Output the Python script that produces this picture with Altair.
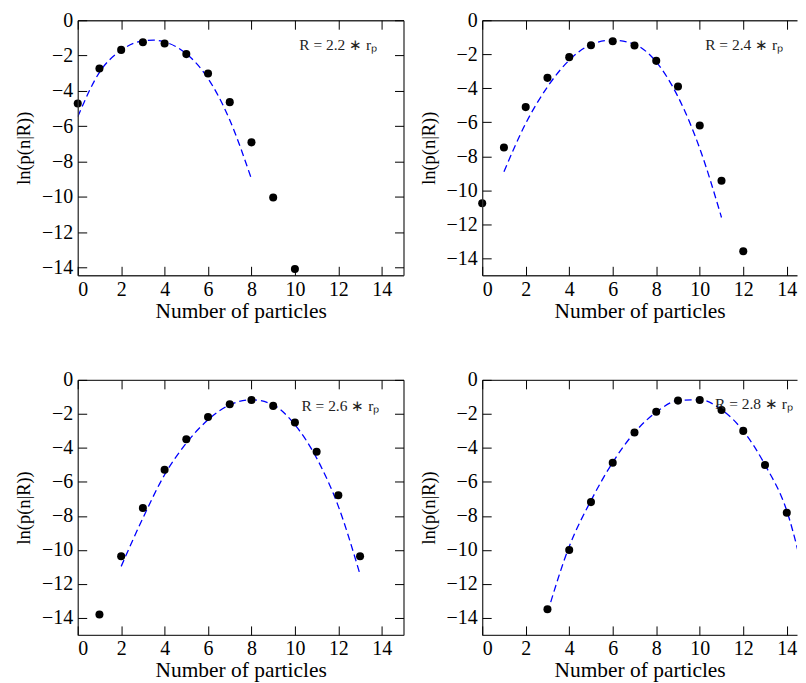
import altair as alt
import pandas as pd

# ---- data ----
p1_x = [0, 1, 2, 3, 4, 5, 6, 7, 8, 9, 10]
p1_y = [-4.72, -2.74, -1.68, -1.25, -1.32, -1.92, -3.02, -4.64, -6.92, -10.04, -14.09]
l1_x = [0, 1, 2, 3, 3.5, 4, 5, 6, 7, 8]
l1_y = [-5.47, -2.95, -1.70, -1.17, -1.13, -1.23, -1.90, -3.30, -5.65, -9.0]

p2_x = [0, 1, 2, 3, 4, 5, 6, 7, 8, 9, 10, 11, 12]
p2_y = [-10.77, -7.48, -5.11, -3.39, -2.17, -1.47, -1.23, -1.49, -2.39, -3.90, -6.19, -9.44, -13.59]
l2_x = [1, 2, 3, 4, 5, 6, 7, 8, 9, 10, 11]
l2_y = [-8.91, -6.07, -3.92, -2.35, -1.43, -1.17, -1.41, -2.45, -4.50, -7.54, -11.6]

p3_x = [1, 2, 3, 4, 5, 6, 7, 8, 9, 10, 11, 12, 13]
p3_y = [-13.80, -10.38, -7.54, -5.29, -3.49, -2.19, -1.43, -1.19, -1.53, -2.51, -4.23, -6.79, -10.38]
l3_x = [2, 3, 4, 5, 6, 7, 8, 9, 10, 11, 12, 13]
l3_y = [-10.97, -8.13, -5.58, -3.72, -2.35, -1.47, -1.17, -1.47, -2.64, -4.60, -7.44, -11.45]

p4_x = [3, 4, 5, 6, 7, 8, 9, 10, 11, 12, 13, 14, 15]
p4_y = [-13.49, -10.01, -7.19, -4.87, -3.10, -1.88, -1.22, -1.18, -1.77, -3.00, -5.01, -7.81, -11.6]
l4_x = [3, 4, 5, 6, 7, 8, 9, 10, 11, 12, 13, 14, 15]
l4_y = [-13.7, -9.8, -7.1, -4.85, -3.1, -1.9, -1.22, -1.17, -1.75, -3.0, -5.0, -7.7, -12.7]

labels = ["R = 2.2 ∗ rₚ", "R = 2.4 ∗ rₚ", "R = 2.6 ∗ rₚ", "R = 2.8 ∗ rₚ"]
label_x = [10.2, 10.25, 10.3, 10.7]
label_y = [-1.42, -1.47, -1.55, -1.43]
y_min = [-14.45, -15, -15, -15]

x_ticks = [0, 2, 4, 6, 8, 10, 12, 14]
y_ticks = [0, -2, -4, -6, -8, -10, -12, -14]

FONT = "Liberation Serif"
TICK = 9
FRAME = "#333333"
W_LEFT, W_RIGHT, H = 327, 316, 256
X_MAX_LEFT = 15
X_MAX_RIGHT = 14.47   # the right-hand panels run past the window edge in the original


def panel(px, py, lx, ly, label, tx, ty, ymin, right_side):
    pts = pd.DataFrame({"n": px, "v": py})
    ln = pd.DataFrame({"n": lx, "v": ly})
    txt = pd.DataFrame({"n": [tx], "v": [ty], "t": [label]})
    xmax = X_MAX_RIGHT if right_side else X_MAX_LEFT
    xs = alt.Scale(domain=[0, xmax], nice=False, zero=False)
    ys = alt.Scale(domain=[ymin, 0], nice=False, zero=False)

    x_bottom = alt.Axis(values=x_ticks, orient="bottom", offset=-TICK, tickSize=TICK,
                        domain=False, grid=False, title="Number of particles",
                        titleFontSize=21.5, labelPadding=4, titlePadding=1, format="d",
                        zindex=1)
    y_left = alt.Axis(values=y_ticks, orient="left", offset=-TICK, tickSize=TICK,
                      domain=False, grid=False, title="ln(p(n|R))", titleFontSize=18.5,
                      labelPadding=5, titlePadding=8, format="d", zindex=1)
    x_top = alt.Axis(values=x_ticks, orient="top", offset=-TICK, tickSize=TICK,
                     domain=False, grid=False, labels=False, title=None, zindex=1)
    if right_side:
        y_right = None
        frame_x = [0]
    else:
        y_right = alt.Axis(values=y_ticks, orient="right", offset=-TICK, tickSize=TICK,
                           domain=False, grid=False, labels=False, title=None, zindex=1)
        frame_x = [0, xmax]
    # frame drawn as grid lines at the domain ends
    x_frame = alt.Axis(values=frame_x, orient="bottom", grid=True, ticks=False,
                       labels=False, domain=False, title=None, gridColor=FRAME,
                       gridWidth=1.3, gridOpacity=1, zindex=1)
    y_frame = alt.Axis(values=[0, ymin], orient="left", grid=True, ticks=False,
                       labels=False, domain=False, title=None, gridColor=FRAME,
                       gridWidth=1.3, gridOpacity=1, zindex=1)

    clip_points = max(px) > xmax
    line = alt.Chart(ln).mark_line(color="#0000ff", strokeDash=[7, 4], strokeWidth=1.3,
                                   interpolate="monotone", clip=True).encode(
        x=alt.X("n:Q", scale=xs, axis=x_top),
        y=alt.Y("v:Q", scale=ys, axis=y_right),
    )
    points = alt.Chart(pts).mark_circle(size=65, color="black", opacity=1,
                                        clip=clip_points).encode(
        x=alt.X("n:Q", scale=xs, axis=x_bottom),
        y=alt.Y("v:Q", scale=ys, axis=y_left),
    )
    text = alt.Chart(txt).mark_text(align="left", baseline="middle", fontSize=15.5,
                                    font=FONT, color="#222222", clip=True).encode(
        x=alt.X("n:Q", scale=xs, axis=x_frame),
        y=alt.Y("v:Q", scale=ys, axis=y_frame),
        text="t:N",
    )
    return alt.layer(line, points, text).resolve_axis(
        x="independent", y="independent"
    ).properties(width=W_RIGHT if right_side else W_LEFT, height=H)


panels = [
    panel(p1_x, p1_y, l1_x, l1_y, labels[0], label_x[0], label_y[0], y_min[0], False),
    panel(p2_x, p2_y, l2_x, l2_y, labels[1], label_x[1], label_y[1], y_min[1], True),
    panel(p3_x, p3_y, l3_x, l3_y, labels[2], label_x[2], label_y[2], y_min[2], False),
    panel(p4_x, p4_y, l4_x, l4_y, labels[3], label_x[3], label_y[3], y_min[3], True),
]

chart = alt.vconcat(
    alt.hconcat(panels[0], panels[1], spacing=14),
    alt.hconcat(panels[2], panels[3], spacing=14),
    spacing=47,
).properties(
    padding={"left": 6, "top": 0, "right": 0, "bottom": 0}
).configure_view(
    stroke="transparent"
).configure_axis(
    labelFont=FONT, labelFontSize=20, labelColor="black",
    titleFont=FONT, titleFontWeight="normal", titleColor="black",
    tickColor="black", tickWidth=1,
)

chart.save("out.html", embed_options={"renderer": "svg", "actions": False})
